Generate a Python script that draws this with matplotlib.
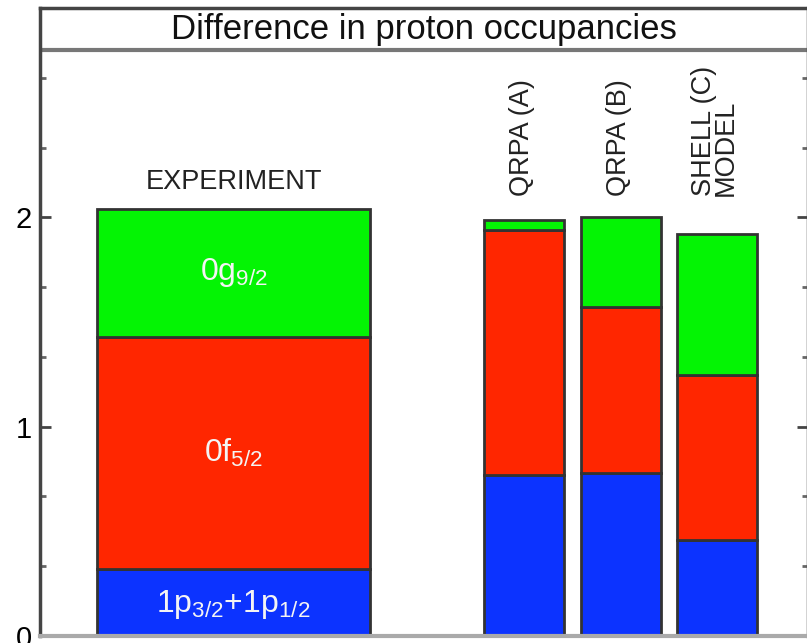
import numpy as np
import matplotlib
matplotlib.use('Agg')
import matplotlib.pyplot as plt
from matplotlib.ticker import MultipleLocator

plt.rcParams['font.family'] = ['Liberation Sans', 'DejaVu Sans']
plt.rcParams['mathtext.fontset'] = 'custom'
plt.rcParams['mathtext.rm'] = 'Liberation Sans'
plt.rcParams['mathtext.it'] = 'Liberation Sans'

# data
models = ['EXPERIMENT', 'QRPA (A)', 'QRPA (B)', 'SHELL (C)\nMODEL']
p_shell = [0.32, 0.77, 0.78, 0.46]     # 1p3/2 + 1p1/2
f_shell = [1.11, 1.17, 0.79, 0.785]    # 0f5/2
g_shell = [0.61, 0.045, 0.43, 0.675]   # 0g9/2
orbit_labels = [r'1p$_{3/2}$+1p$_{1/2}$', r'0f$_{5/2}$', r'0g$_{9/2}$']

c_blue = '#0C33FF'
c_red = '#FF2600'
c_green = '#04F404'

# layout
xpos = [2.52, 6.30, 7.57, 8.82]
widths = [3.55, 1.04, 1.04, 1.04]

fig = plt.figure(figsize=(8.07, 6.43), dpi=100)
ax = fig.add_axes([40/807, 1 - 636/643, 768/807, 628/643])

p = np.array(p_shell)
f = np.array(f_shell)
g = np.array(g_shell)
ax.bar(xpos, p, width=widths, color=c_blue, edgecolor='#333333', linewidth=2, zorder=2)
ax.bar(xpos, f, bottom=p, width=widths, color=c_red, edgecolor='#333333', linewidth=2, zorder=2)
ax.bar(xpos, g, bottom=p + f, width=widths, color=c_green, edgecolor='#333333', linewidth=2, zorder=2)

# labels inside the experiment bar
lab_kw = dict(color='#f4f4f4', fontsize=23, ha='center', va='center', zorder=3)
ax.text(xpos[0], p[0] / 2 - 0.01, orbit_labels[0], **lab_kw)
ax.text(xpos[0], p[0] + f[0] * 0.5, orbit_labels[1], **lab_kw)
ax.text(xpos[0], p[0] + f[0] + g[0] * 0.5, orbit_labels[2], **lab_kw)

# model names
ax.text(xpos[0], 2.17, models[0], fontsize=19.5, ha='center', va='center', color='#222222')
for i in range(1, 4):
    ax.text(xpos[i] - 0.03, 2.10, models[i], fontsize=19.5, rotation=90, ha='center', va='bottom',
            multialignment='left', linespacing=0.8, color='#222222')

# title band
ax.axhline(2.8, color='#777777', linewidth=3, zorder=1)
ax.text(5.0, 2.895, 'Difference in proton occupancies', fontsize=25, ha='center', va='center', color='#111111')

ax.set_xlim(0, 10)
ax.set_ylim(0, 3)
ax.set_xticks([])
ax.yaxis.set_minor_locator(MultipleLocator(1/3))
ax.set_yticks([0, 1, 2])
ax.set_yticklabels(['0', '1', '2'])
ax.tick_params(axis='y', which='major', direction='in', length=8, width=2, labelsize=21,
               right=True, color='#444444', pad=6)
ax.tick_params(axis='y', which='minor', direction='in', length=4, width=2, right=True, color='#666666')

for side in ['left', 'top', 'right']:
    ax.spines[side].set_color('#444444')
    ax.spines[side].set_linewidth(2.5)
ax.spines['bottom'].set_color('#aaaaaa')
ax.spines['bottom'].set_linewidth(3)

fig.savefig('out.png', dpi=100)
